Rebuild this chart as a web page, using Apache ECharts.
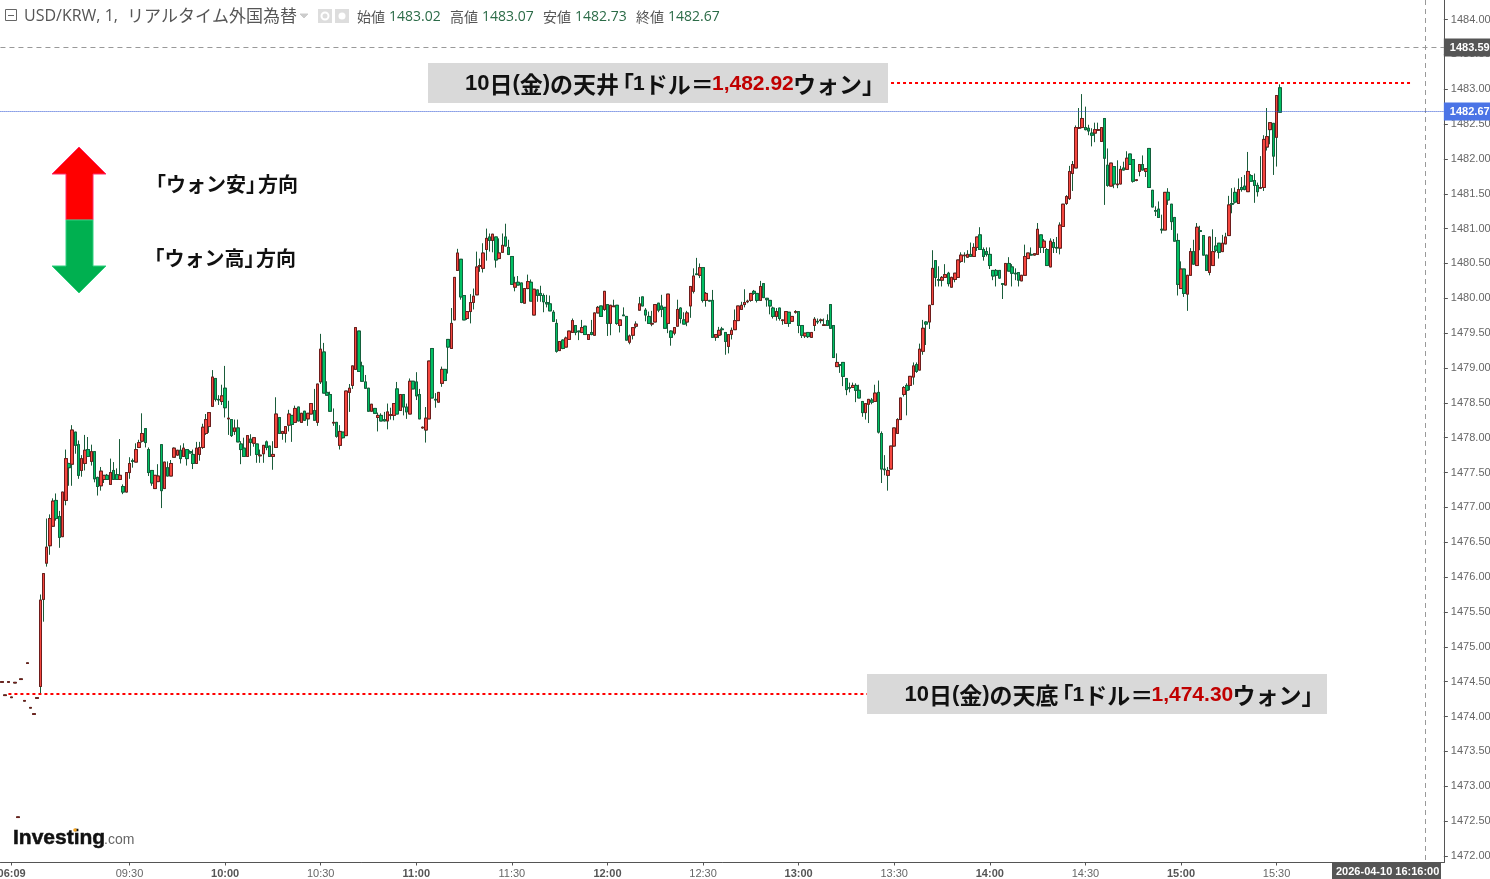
<!DOCTYPE html>
<html><head><meta charset="utf-8">
<style>html,body{margin:0;padding:0;background:#fff}#c{width:1490px;height:879px}</style>
<script src="https://cdn.jsdelivr.net/npm/echarts@6/dist/echarts.min.js"></script>
</head><body><div id="c"></div>
<script>
const opens=[
1474.49,1474.30,1474.49,1474.27,1474.48,1472.55,1474.53,1474.22,1474.76,1474.12,
1474.03,1474.26,1474.43,1475.68,1476.20,1476.45,1476.73,1477.10,1476.87,1476.58,
1477.10,1477.63,1477.62,1478.08,1477.90,1477.53,1477.63,1477.83,1477.66,1477.80,
1477.43,1477.31,1477.40,1477.46,1477.33,1477.53,1477.47,1477.40,1477.30,1477.22,
1477.50,1477.67,1477.65,1477.86,1477.95,1478.13,1477.83,1477.53,1477.27,1477.37,
1477.90,1477.27,1477.57,1477.45,1477.72,1477.75,1477.82,1477.73,1477.83,1477.80,
1477.76,1477.63,1477.76,1477.86,1478.06,1478.16,1478.45,1478.85,1478.55,1478.52,
1478.71,1478.27,1478.26,1478.09,1478.14,1477.91,1477.85,1477.73,1477.98,1477.92,
1477.91,1477.74,1477.77,1477.94,1477.88,1477.73,1477.86,1478.29,1478.06,1478.06,
1478.18,1478.32,1478.22,1478.44,1478.22,1478.38,1478.27,1478.34,1478.39,1478.22,
1478.80,1479.23,1478.65,1478.62,1478.21,1478.22,1477.89,1478.08,1478.03,1478.65,
1478.75,1478.98,1479.53,1479.03,1478.80,1478.71,1478.38,1478.42,1478.29,1478.32,
1478.26,1478.24,1478.32,1478.32,1478.70,1478.39,1478.62,1478.44,1478.34,1478.81,
1478.80,1478.62,1478.14,1478.11,1478.27,1479.28,1478.55,1478.51,1478.78,1478.98,
1479.41,1479.28,1479.69,1480.40,1480.56,1480.04,1479.71,1479.81,1479.94,1480.05,
1480.46,1480.43,1480.70,1480.88,1480.83,1480.88,1480.57,1480.66,1480.88,1480.73,
1480.60,1480.16,1480.23,1480.22,1479.93,1480.14,1480.23,1479.76,1480.12,1480.07,
1480.04,1479.94,1479.92,1479.80,1479.64,1479.25,1479.40,1479.30,1479.41,1479.51,
1479.61,1479.53,1479.51,1479.60,1479.41,1479.51,1479.47,1479.79,1479.89,1479.84,
1479.91,1479.64,1479.88,1479.90,1479.61,1479.76,1479.74,1479.37,1479.47,1479.60,
1479.83,1480.02,1479.83,1479.74,1479.63,1479.66,1479.93,1479.89,1479.87,1479.64,
1479.53,1479.50,1479.60,1479.86,1479.69,1479.66,1479.89,1480.10,1480.35,1480.33,
1480.44,1479.97,1479.97,1479.97,1479.44,1479.47,1479.56,1479.51,1479.31,1479.48,
1479.55,1479.68,1479.84,1479.91,1479.95,1479.97,1480.10,1480.07,1479.97,1480.21,
1480.00,1479.97,1479.86,1479.74,1479.86,1479.68,1479.64,1479.80,1479.67,1479.80,
1479.81,1479.61,1479.46,1479.51,1479.44,1479.61,1479.67,1479.68,1479.61,1479.68,
1479.91,1479.61,1479.02,1479.05,1479.08,1478.85,1478.72,1478.72,1478.75,1478.68,
1478.52,1478.36,1478.48,1478.54,1478.52,1478.65,1478.06,1477.55,1477.46,1477.55,
1477.88,1478.06,1478.26,1478.62,1478.75,1478.75,1478.87,1479.05,1478.97,1479.24,
1479.66,1479.66,1479.91,1480.54,1480.27,1480.26,1480.30,1480.36,1480.16,1480.27,
1480.30,1480.53,1480.61,1480.59,1480.63,1480.60,1480.73,1480.91,1480.70,1480.67,
1480.63,1480.40,1480.40,1480.40,1480.21,1480.19,1480.50,1480.45,1480.36,1480.37,
1480.25,1480.33,1480.57,1480.63,1480.62,1480.63,1480.91,1480.73,1480.70,1480.45,
1480.80,1480.73,1480.72,1481.03,1481.36,1481.43,1481.79,1481.87,1482.44,1482.45,
1482.45,1482.44,1482.37,1482.37,1482.41,1482.25,1482.58,1481.91,1481.61,1481.89,
1481.63,1481.64,1481.87,1481.85,1482.07,1481.99,1481.69,1481.82,1481.92,1481.82,
1482.15,1481.55,1481.26,1481.28,1480.99,1480.98,1481.52,1481.35,1481.16,1480.83,
1480.14,1480.42,1480.06,1480.33,1480.67,1480.47,1480.97,1480.90,1480.62,1480.37,
1480.47,1480.75,1480.79,1480.67,1480.78,1480.90,1481.36,1481.52,1481.36,1481.59,
1481.61,1481.53,1481.76,1481.69,1481.62,1481.58,1481.59,1482.17,1482.42,1482.51,1482.31,1483.02];
const closes=[
1474.50,1474.31,1474.50,1474.28,1474.49,1472.56,1474.54,1474.23,1474.77,1474.13,
1474.04,1474.27,1475.67,1476.05,1476.43,1476.84,1477.09,1476.84,1476.57,1477.22,
1477.70,1477.57,1478.11,1477.89,1477.46,1477.70,1477.82,1477.73,1477.80,1477.41,
1477.30,1477.52,1477.46,1477.40,1477.50,1477.40,1477.40,1477.46,1477.22,1477.50,
1477.63,1477.66,1477.83,1477.93,1478.06,1477.93,1477.50,1477.35,1477.46,1477.45,
1477.24,1477.65,1477.45,1477.63,1477.85,1477.82,1477.70,1477.85,1477.70,1477.78,
1477.63,1477.85,1477.86,1478.15,1478.26,1478.36,1478.87,1478.55,1478.54,1478.60,
1478.43,1478.28,1478.03,1478.14,1477.94,1477.83,1477.73,1478.03,1477.93,1478.00,
1477.76,1477.75,1477.89,1477.86,1477.73,1477.76,1478.34,1478.06,1478.09,1478.16,
1478.34,1478.19,1478.42,1478.24,1478.35,1478.25,1478.35,1478.49,1478.25,1478.77,
1479.27,1478.64,1478.61,1478.38,1478.22,1478.02,1478.09,1478.00,1478.67,1478.71,
1479.03,1479.58,1478.95,1478.81,1478.71,1478.38,1478.48,1478.35,1478.32,1478.24,
1478.24,1478.37,1478.33,1478.49,1478.34,1478.62,1478.44,1478.37,1478.81,1478.70,
1478.60,1478.27,1478.15,1478.28,1479.10,1478.57,1478.54,1478.65,1478.98,1478.82,
1479.30,1479.64,1480.30,1480.65,1480.02,1479.69,1479.81,1479.94,1480.03,1480.45,
1480.47,1480.65,1480.86,1480.83,1480.92,1480.55,1480.65,1480.76,1480.75,1480.63,
1480.20,1480.22,1480.19,1479.94,1480.14,1480.24,1479.96,1480.13,1480.04,1480.04,
1479.95,1479.92,1479.82,1479.67,1479.24,1479.38,1479.28,1479.43,1479.53,1479.68,
1479.51,1479.52,1479.58,1479.48,1479.48,1479.48,1479.79,1479.87,1479.74,1480.10,
1479.64,1479.90,1479.89,1479.64,1479.69,1479.75,1479.40,1479.46,1479.58,1479.63,
1479.92,1479.89,1479.76,1479.64,1479.64,1479.91,1479.83,1479.84,1479.57,1480.06,
1479.44,1479.58,1479.84,1479.71,1479.63,1479.79,1480.17,1480.32,1480.34,1480.44,
1479.97,1480.07,1479.96,1479.44,1479.48,1479.54,1479.55,1479.38,1479.48,1479.54,
1479.68,1479.89,1479.90,1479.94,1479.96,1480.07,1480.07,1479.97,1480.17,1480.01,
1479.98,1479.89,1479.74,1479.81,1479.71,1479.69,1479.81,1479.64,1479.74,1479.81,
1479.61,1479.47,1479.50,1479.45,1479.51,1479.70,1479.66,1479.69,1479.62,1479.61,
1479.57,1479.15,1479.08,1479.04,1478.88,1478.69,1478.71,1478.75,1478.68,1478.57,
1478.36,1478.49,1478.55,1478.51,1478.64,1478.08,1477.55,1477.54,1477.53,1477.88,
1478.14,1478.26,1478.57,1478.72,1478.68,1478.88,1479.03,1478.95,1479.27,1479.57,
1479.63,1479.90,1480.43,1480.30,1480.26,1480.30,1480.34,1480.21,1480.30,1480.36,
1480.55,1480.62,1480.62,1480.63,1480.60,1480.73,1480.88,1480.70,1480.60,1480.63,
1480.47,1480.32,1480.33,1480.29,1480.20,1480.50,1480.39,1480.36,1480.35,1480.26,
1480.33,1480.60,1480.65,1480.62,1480.64,1480.99,1480.73,1480.82,1480.47,1480.82,
1480.73,1480.72,1481.05,1481.35,1481.46,1481.82,1481.92,1482.45,1482.45,1482.58,
1482.42,1482.40,1482.34,1482.42,1482.42,1482.45,1482.01,1481.62,1481.94,1481.64,
1481.64,1481.85,1481.84,1482.01,1481.92,1481.68,1481.70,1481.92,1481.84,1481.86,
1481.59,1481.31,1481.25,1481.16,1480.98,1481.52,1481.41,1481.10,1480.82,1480.20,
1480.42,1480.07,1480.33,1480.67,1480.49,1481.02,1480.96,1480.62,1480.40,1480.88,
1480.67,1480.69,1480.66,1480.79,1480.88,1481.34,1481.35,1481.38,1481.56,1481.56,
1481.56,1481.82,1481.68,1481.62,1481.53,1481.59,1482.28,1482.32,1482.52,1482.04,1482.91,1482.67];
const highs=[
1474.50,1474.31,1474.50,1474.28,1474.49,1472.56,1474.54,1474.23,1474.77,1474.13,
1474.04,1474.27,1475.75,1476.05,1476.84,1476.90,1477.13,1477.20,1476.95,1477.22,
1477.83,1477.64,1478.18,1478.08,1477.96,1477.75,1478.04,1478.01,1477.90,1477.80,
1477.44,1477.58,1477.46,1477.48,1477.70,1477.65,1477.56,1477.98,1477.33,1477.50,
1477.72,1477.70,1477.92,1477.97,1478.35,1478.13,1477.86,1477.53,1477.46,1477.62,
1477.90,1477.65,1477.66,1477.68,1477.86,1477.82,1477.89,1477.92,1477.83,1477.82,
1477.83,1477.94,1477.94,1478.20,1478.34,1478.36,1478.97,1478.85,1478.61,1478.76,
1479.03,1478.53,1478.26,1478.26,1478.26,1477.95,1478.00,1478.03,1478.05,1478.00,
1477.91,1477.83,1477.89,1477.96,1477.88,1477.95,1478.58,1478.29,1478.09,1478.16,
1478.40,1478.32,1478.46,1478.44,1478.35,1478.38,1478.35,1478.49,1478.70,1478.77,
1479.49,1479.36,1478.81,1478.66,1478.42,1478.22,1478.18,1478.08,1478.67,1478.77,
1479.03,1479.58,1479.53,1479.09,1478.90,1478.71,1478.48,1478.42,1478.36,1478.35,
1478.37,1478.49,1478.43,1478.49,1478.80,1478.62,1478.62,1478.49,1478.85,1478.81,
1478.94,1478.70,1478.16,1478.44,1479.10,1479.28,1478.64,1478.65,1479.02,1478.98,
1479.41,1479.86,1480.30,1480.71,1480.56,1480.04,1479.81,1480.06,1480.14,1480.67,
1480.57,1480.79,1481.00,1480.93,1480.92,1480.88,1480.86,1480.93,1481.07,1480.84,
1480.60,1480.31,1480.32,1480.22,1480.14,1480.34,1480.27,1480.13,1480.12,1480.18,
1480.07,1480.05,1480.04,1479.83,1479.70,1479.38,1479.41,1479.45,1479.53,1479.71,
1479.61,1479.53,1479.69,1479.60,1479.48,1479.69,1479.79,1479.89,1479.89,1480.10,
1479.91,1479.90,1479.98,1479.90,1479.69,1479.87,1479.74,1479.48,1479.58,1479.67,
1480.02,1480.02,1479.86,1479.81,1479.82,1479.91,1479.93,1480.05,1479.87,1480.06,
1479.54,1479.58,1479.98,1479.87,1479.80,1479.82,1480.17,1480.43,1480.58,1480.50,
1480.44,1480.09,1479.97,1480.12,1479.48,1479.59,1479.59,1479.51,1479.48,1479.58,
1479.84,1479.89,1479.95,1480.13,1479.98,1480.07,1480.12,1480.07,1480.25,1480.21,
1480.00,1479.97,1479.88,1479.86,1479.86,1479.69,1479.81,1479.80,1479.74,1479.83,
1479.81,1479.61,1479.50,1479.51,1479.51,1479.73,1479.71,1479.71,1479.71,1479.77,
1479.91,1479.61,1479.21,1479.05,1479.08,1478.85,1478.79,1478.79,1478.78,1478.76,
1478.52,1478.49,1478.55,1478.57,1478.76,1478.82,1478.09,1477.75,1477.58,1477.88,
1478.14,1478.28,1478.57,1478.74,1478.78,1478.88,1479.08,1479.08,1479.35,1479.69,
1479.67,1479.90,1480.69,1480.54,1480.46,1480.32,1480.49,1480.38,1480.31,1480.36,
1480.55,1480.66,1480.66,1480.69,1480.80,1480.79,1480.88,1481.02,1480.73,1480.73,
1480.73,1480.40,1480.42,1480.40,1480.21,1480.50,1480.59,1480.49,1480.43,1480.37,
1480.33,1480.77,1480.65,1480.73,1480.64,1481.08,1480.91,1480.85,1480.72,1480.86,
1480.85,1480.88,1481.09,1481.35,1481.48,1481.90,1481.97,1482.48,1482.73,1482.93,
1482.75,1482.49,1482.44,1482.52,1482.52,1482.45,1482.58,1482.15,1481.94,1481.89,
1481.98,1481.90,1481.96,1482.11,1482.07,1481.99,1481.71,1481.92,1482.05,1481.86,
1482.15,1481.55,1481.32,1481.39,1481.20,1481.52,1481.58,1481.35,1481.16,1480.93,
1480.53,1480.42,1480.33,1480.72,1480.84,1481.08,1481.04,1480.90,1480.62,1480.88,
1480.99,1480.88,1480.79,1480.91,1480.94,1481.47,1481.58,1481.59,1481.72,1481.74,
1481.77,1482.10,1481.78,1481.79,1481.66,1482.04,1482.34,1482.73,1482.52,1482.51,1482.91,1483.07];
const lows=[
1474.49,1474.30,1474.49,1474.27,1474.48,1472.55,1474.53,1474.22,1474.76,1474.12,
1474.03,1474.26,1474.31,1475.36,1476.15,1476.32,1476.72,1476.81,1476.42,1476.58,
1477.03,1477.31,1477.31,1477.77,1477.41,1477.44,1477.53,1477.73,1477.60,1477.36,
1477.17,1477.24,1477.35,1477.40,1477.33,1477.40,1477.40,1477.40,1477.19,1477.22,
1477.41,1477.57,1477.65,1477.86,1477.93,1477.86,1477.45,1477.31,1477.27,1477.37,
1476.99,1477.27,1477.45,1477.45,1477.72,1477.74,1477.63,1477.73,1477.60,1477.78,
1477.55,1477.63,1477.67,1477.84,1478.04,1478.07,1478.44,1478.52,1478.47,1478.47,
1478.29,1478.04,1478.01,1478.04,1477.94,1477.62,1477.73,1477.73,1477.74,1477.87,
1477.64,1477.64,1477.64,1477.82,1477.73,1477.54,1477.86,1478.06,1477.97,1477.93,
1478.09,1477.94,1478.21,1478.24,1478.22,1478.24,1478.17,1478.34,1478.25,1478.17,
1478.77,1478.64,1478.61,1478.37,1478.17,1478.00,1477.83,1477.99,1478.03,1478.37,
1478.70,1478.98,1478.95,1478.80,1478.70,1478.38,1478.38,1478.35,1478.09,1478.24,
1478.24,1478.12,1478.26,1478.25,1478.34,1478.39,1478.32,1478.27,1478.34,1478.70,
1478.54,1478.27,1478.13,1477.93,1478.27,1478.57,1478.43,1478.51,1478.73,1478.82,
1478.92,1479.28,1479.69,1480.40,1479.98,1479.69,1479.69,1479.64,1479.84,1480.05,
1480.38,1480.37,1480.54,1480.67,1480.66,1480.44,1480.56,1480.66,1480.75,1480.62,
1480.20,1480.10,1480.19,1479.93,1479.93,1480.13,1479.96,1479.76,1479.95,1479.95,
1479.80,1479.87,1479.82,1479.67,1479.22,1479.25,1479.27,1479.30,1479.41,1479.51,
1479.47,1479.40,1479.50,1479.48,1479.41,1479.47,1479.47,1479.79,1479.74,1479.82,
1479.46,1479.47,1479.88,1479.62,1479.51,1479.75,1479.40,1479.34,1479.41,1479.57,
1479.83,1479.89,1479.67,1479.64,1479.60,1479.66,1479.80,1479.73,1479.57,1479.50,
1479.32,1479.47,1479.60,1479.64,1479.63,1479.60,1479.72,1480.07,1480.34,1480.29,
1479.94,1479.88,1479.96,1479.44,1479.39,1479.43,1479.47,1479.19,1479.21,1479.41,
1479.55,1479.68,1479.84,1479.87,1479.93,1479.95,1480.05,1479.94,1479.97,1480.01,
1479.88,1479.77,1479.71,1479.68,1479.68,1479.62,1479.64,1479.59,1479.67,1479.78,
1479.50,1479.43,1479.43,1479.43,1479.44,1479.53,1479.63,1479.64,1479.61,1479.61,
1479.57,1479.15,1479.02,1478.93,1478.74,1478.61,1478.65,1478.72,1478.51,1478.57,
1478.30,1478.26,1478.21,1478.48,1478.52,1478.06,1477.35,1477.46,1477.24,1477.55,
1477.87,1478.06,1478.26,1478.59,1478.32,1478.68,1478.76,1478.93,1478.97,1479.19,
1479.33,1479.56,1479.91,1480.17,1480.17,1480.17,1480.30,1480.17,1480.16,1480.23,
1480.30,1480.51,1480.51,1480.58,1480.60,1480.60,1480.68,1480.70,1480.54,1480.60,
1480.42,1480.26,1480.17,1480.28,1479.99,1480.19,1480.39,1480.17,1480.26,1480.17,
1480.25,1480.33,1480.57,1480.62,1480.62,1480.63,1480.65,1480.65,1480.47,1480.45,
1480.65,1480.65,1480.63,1481.03,1481.34,1481.41,1481.54,1481.87,1482.43,1482.44,
1482.41,1482.34,1482.18,1482.24,1482.40,1482.25,1481.34,1481.60,1481.61,1481.58,
1481.58,1481.64,1481.84,1481.85,1481.92,1481.66,1481.68,1481.75,1481.84,1481.74,
1481.59,1481.31,1481.18,1481.16,1480.93,1480.98,1481.34,1480.98,1480.82,1480.04,
1480.14,1480.02,1479.82,1480.33,1480.49,1480.47,1480.69,1480.62,1480.40,1480.33,
1480.47,1480.66,1480.57,1480.67,1480.78,1480.90,1481.22,1481.36,1481.36,1481.53,
1481.55,1481.53,1481.68,1481.37,1481.46,1481.58,1481.54,1482.12,1482.21,1481.77,1481.89,1482.67];

const slotCount=453;
const xTickSlots=[3,40,70,100,130,160,190,220,250,280,310,340,370,400];
const xTickLabels=['06:09','09:30','10:00','10:30','11:00','11:30','12:00','12:30','13:00','13:30','14:00','14:30','15:00','15:30'];
const boldTicks=['06:09','10:00','11:00','12:00','13:00','14:00','15:00'];
const yTicks=[1472,1472.5,1473,1473.5,1474,1474.5,1475,1475.5,1476,1476.5,1477,1477.5,1478,1478.5,1479,1479.5,1480,1480.5,1481,1481.5,1482,1482.5,1483,1483.5,1484];
const lastLabel='1482.67', crossLabel='1483.59';
const lastPrice=1482.68, crossPrice=1483.598, topPrice=1483.09, bottomPrice=1474.323;
const legendNames=['始値','高値','安値','終値'];
const legendValues=['1483.02','1483.07','1482.73','1482.67'];

const cats=[];for(let i=0;i<slotCount;i++)cats.push('s'+i);
const wicks=opens.map((o,i)=>[o,closes[i],lows[i],highs[i]]);
const bodies=opens.map((o,i)=>[o,closes[i],Math.min(o,closes[i]),Math.max(o,closes[i])]);

const sans="'Liberation Sans',Arial,sans-serif";
const jp="'Noto Sans CJK JP',sans-serif";
const ui="'Open Sans','Noto Sans CJK JP',sans-serif";
const gfx=[];
function poly(points,fill,stroke){gfx.push({type:'polygon',shape:{points},style:{fill,stroke,lineWidth:1},z:20})}
function rect(x,y,w,h,fill,stroke){gfx.push({type:'rect',shape:{x,y,width:w,height:h},style:{fill,stroke:stroke||null,lineWidth:1},z:20})}
function txt(x,y,text,o){gfx.push({type:'text',x,y,z:21,style:Object.assign({text,textVerticalAlign:'middle',textBaseline:'middle'},o)})}

poly([[79,147],[106,174],[93,174],[93,220],[66,220],[66,174],[52,174]],'#ff0000','#ff2a6a');
poly([[66,220],[93,220],[93,266],[106,266],[79,293],[52,266],[66,266]],'#00b050','#30d080');
txt(146,184,'「ウォン安」',{font:"bold 20px "+jp,fill:'#111'});
txt(258,184,'方向',{font:"bold 20px "+jp,fill:'#111'});
txt(144.5,258,'「ウォン高」',{font:"bold 20px "+jp,fill:'#111'});
txt(256,258,'方向',{font:"bold 20px "+jp,fill:'#111'});

const rich={a:{font:"bold 23px "+jp,fill:'#111'},c:{font:"bold 22px "+sans,fill:'#111'},d:{font:"bold 21px "+sans,fill:'#111'},b:{font:"bold 21px "+sans,fill:'#c00000'}};
function annot(x,y,word,num){
  txt(x,y,'{c|10}{a|日}{c|(}{a|金}{c|)}{a|の'+word+'}',{rich});
  txt(x+146,y,'{a|「}',{rich});
  txt(x+168,y,'{d|1}{a|ドル＝}',{rich});
  txt(x+247,y,'{b|'+num+'}',{rich});
  txt(x+328,y,'{a|ウォン」}',{rich});
}
rect(428,63,460,40,'#d9d9d9');
annot(465,84,'天井','1,482.92');
rect(867,674,460,40,'#d9d9d9');
annot(904.5,695,'天底','1,474.30');

rect(5.5,9.5,11,11,'#fff','#666');
gfx.push({type:'line',shape:{x1:8,y1:15.5,x2:14,y2:15.5},style:{stroke:'#666',lineWidth:1},z:21});
txt(24,16,'USD/KRW, 1,',{font:"16px "+ui,fill:'#555'});
txt(127,16,'リアルタイム外国為替',{font:"17px "+jp,fill:'#555'});
poly([[300,14],[308,14],[304,18]],'#ccc','#ccc');
rect(318,9,14,14,'#dddddd');rect(335,9,14,14,'#dddddd');
gfx.push({type:'circle',shape:{cx:325,cy:16,r:3.5},style:{fill:'none',stroke:'#fff',lineWidth:2},z:21});
gfx.push({type:'circle',shape:{cx:342,cy:16,r:3.5},style:{fill:'#fff'},z:21});
legendNames.forEach((n,i)=>{
  const x=357+i*93;
  txt(x,17,n,{font:"14px "+jp,fill:'#555'});
  txt(x+32,17,legendValues[i],{font:"14px "+ui,fill:'#2b6b47'});
});

txt(13,838,'Investing',{font:"bold 21px "+sans,fill:'#111',stroke:'#111',lineWidth:0.5});
txt(104,840,'.com',{font:"14px "+sans,fill:'#666'});
gfx.push({type:'circle',shape:{cx:75,cy:830,r:1.8},style:{fill:'#f5a623'},z:22});

gfx.push({type:'line',shape:{x1:1425.5,y1:0,x2:1425.5,y2:863},style:{stroke:'#999',lineWidth:1,lineDash:[5,4]},z:4});
rect(1332,863,109,16,'#555');
txt(1336,872,'2026-04-10 16:16:00',{font:"bold 11px "+sans,fill:'#fff'});

const tag=(bg,text)=>({show:true,position:'end',distance:0,formatter:()=>text,color:'#fff',fontWeight:'bold',fontSize:11,fontFamily:sans,backgroundColor:bg,padding:[4,1,3,6]});
const option={
  animation:false,
  backgroundColor:'#fff',
  graphic:gfx,
  grid:{left:0.45,top:0,width:1443.4,height:862.5,containLabel:false,outerBoundsMode:'none'},
  xAxis:{type:'category',data:cats,boundaryGap:true,
    axisLine:{lineStyle:{color:'#555',width:1}},
    axisTick:{show:true,length:3,alignWithLabel:true,interval:i=>xTickSlots.includes(i),lineStyle:{color:'#555'}},
    axisLabel:{interval:i=>xTickSlots.includes(i),margin:6,fontFamily:sans,fontSize:11,color:'#666',hideOverlap:false,
      formatter:(v,i)=>{const k=xTickSlots.indexOf(i);if(k<0)return'';const t=xTickLabels[k];return boldTicks.includes(t)?'{b|'+t+'}':t},
      rich:{b:{fontWeight:'bold',color:'#555',fontFamily:sans,fontSize:11}}},
    splitLine:{show:false}},
  yAxis:{type:'value',position:'right',min:1471.905,max:1484.28,scale:true,
    axisLine:{show:true,lineStyle:{color:'#555',width:1}},
    axisTick:{show:true,length:4,customValues:yTicks,lineStyle:{color:'#555'}},
    axisLabel:{customValues:yTicks,margin:7,padding:[2,0,0,0],fontFamily:sans,fontSize:11,color:'#666',formatter:v=>v.toFixed(2)},
    splitLine:{show:false}},
  series:[
    {name:'wicks',type:'candlestick',data:wicks,barWidth:3,progressive:0,silent:true,
     itemStyle:{color:'#1a5c3a',color0:'#1a5c3a',borderColor:'#1a5c3a',borderColor0:'#1a5c3a',borderWidth:1},z:2},
    {name:'USD/KRW',type:'candlestick',data:bodies,barWidth:3,progressive:0,silent:true,
     itemStyle:{color:'#f5473f',color0:'#00c063',borderColor:'#6e1c1c',borderColor0:'#14603c',borderWidth:1},z:3,
     markLine:{silent:true,symbol:'none',animation:false,precision:3,
       data:[
        {yAxis:crossPrice,lineStyle:{color:'#999',type:[5,4],width:1},label:tag('#555',crossLabel)},
        {yAxis:lastPrice,lineStyle:{color:'#2f55d4',type:[1,1],width:1},label:tag('#4b74e6',lastLabel)},
        [{xAxis:cats[279],yAxis:topPrice,lineStyle:{color:'#f00',type:[3,3],width:2},label:{show:false}},{xAxis:cats[442],yAxis:topPrice}],
        [{xAxis:cats[2],yAxis:bottomPrice,lineStyle:{color:'#f00',type:[3,3],width:2},label:{show:false}},{xAxis:cats[272],yAxis:bottomPrice}]
       ]}}
  ]
};
echarts.init(document.getElementById('c'),null,{renderer:'canvas'}).setOption(option);
</script></body></html>
